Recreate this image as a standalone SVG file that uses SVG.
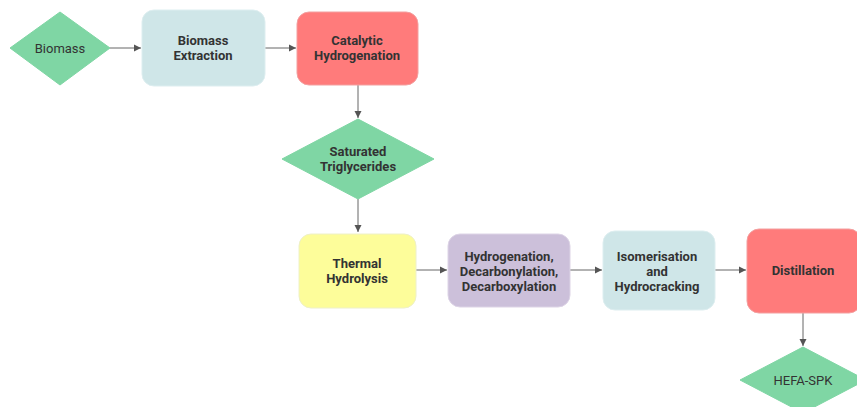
<svg xmlns="http://www.w3.org/2000/svg" width="857" height="407" viewBox="0 0 857 407">
<defs>
<marker id="ah" markerWidth="8" markerHeight="8" refX="7" refY="4" orient="auto" markerUnits="userSpaceOnUse">
<path d="M0,0.5 L7,4 L0,7.5 Z" fill="#555"/>
</marker>
<style>
.t{font-family:Roboto,"Liberation Sans",sans-serif;font-size:13px;fill:#333;text-anchor:middle}
.b{font-weight:bold}
.dia{fill:#7fd6a4;stroke:#7fd6a4}
.blue{fill:#cfe6e8;stroke:#ddeef0}
.red{fill:#ff7b7b;stroke:#f3a0a0}
.yel{fill:#fdfd9a;stroke:#eef0c8}
.pur{fill:#ccc0da;stroke:#ddd4e6}
.c{stroke:#666;stroke-width:1;fill:none;marker-end:url(#ah)}
</style>
</defs>
<g id="connectors">
<path class="c" d="M110,48 H141"/>
<path class="c" d="M265,48 H296"/>
<path class="c" d="M358,85 V118"/>
<path class="c" d="M358,199 V232"/>
<path class="c" d="M416,270 H447"/>
<path class="c" d="M570,270 H602"/>
<path class="c" d="M715,270 H746"/>
<path class="c" d="M803,313 V346"/>
</g>
<g id="biomass">
<polygon class="dia" points="10,48 60,12 110,48 60,85"/>
<text class="t" x="60" y="53">Biomass</text>
</g>
<g id="extraction">
<rect class="blue" x="142" y="10" width="123" height="76" rx="12"/>
<text class="t b" x="203" y="45">Biomass</text>
<text class="t b" x="203" y="60">Extraction</text>
</g>
<g id="catalytic">
<rect class="red" x="297" y="12" width="121" height="73" rx="12"/>
<text class="t b" x="357" y="45">Catalytic</text>
<text class="t b" x="357" y="60">Hydrogenation</text>
</g>
<g id="triglycerides">
<polygon class="dia" points="282,159 358,119 434,159 358,199"/>
<text class="t b" x="358" y="156">Saturated</text>
<text class="t b" x="358" y="171">Triglycerides</text>
</g>
<g id="thermal">
<rect class="yel" x="299" y="234" width="117" height="74" rx="12"/>
<text class="t b" x="357" y="268">Thermal</text>
<text class="t b" x="357" y="283">Hydrolysis</text>
</g>
<g id="hydrogenation">
<rect class="pur" x="448" y="234" width="122" height="73" rx="12"/>
<text class="t b" x="509" y="261">Hydrogenation,</text>
<text class="t b" x="509" y="276">Decarbonylation,</text>
<text class="t b" x="509" y="291">Decarboxylation</text>
</g>
<g id="isomerisation">
<rect class="blue" x="603" y="231" width="112" height="79" rx="12"/>
<text class="t b" x="657" y="261">Isomerisation</text>
<text class="t b" x="657" y="276">and</text>
<text class="t b" x="657" y="291">Hydrocracking</text>
</g>
<g id="distillation">
<rect class="red" x="747" y="229" width="114" height="84" rx="12"/>
<text class="t b" x="803" y="275">Distillation</text>
</g>
<g id="hefa">
<polygon class="dia" points="740,380 803,347 866,380 803,413"/>
<text class="t" x="803" y="385">HEFA-SPK</text>
</g>
</svg>
